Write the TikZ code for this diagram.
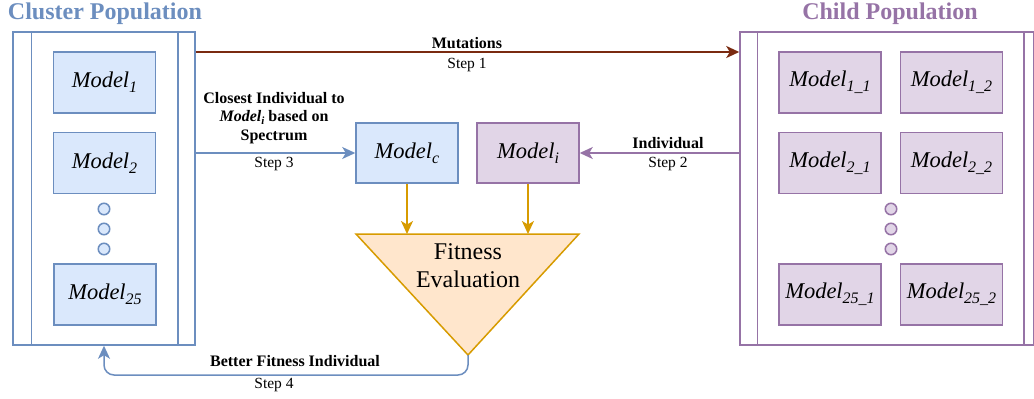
\documentclass[tikz,border=0pt]{standalone}
\usepackage{fontspec}
\setmainfont{Liberation Serif}
\usetikzlibrary{arrows.meta}
\definecolor{bstroke}{HTML}{6C8EBF}
\definecolor{bfill}{HTML}{DAE8FC}
\definecolor{pstroke}{HTML}{9673A6}
\definecolor{pfill}{HTML}{E1D5E7}
\definecolor{ostroke}{HTML}{D79B00}
\definecolor{ofill}{HTML}{FFE6CC}
\definecolor{mutred}{HTML}{7A2A10}
\newcommand\mdl[1]{\textit{Model}\raisebox{-5pt}{\fontsize{16}{16}\selectfont\itshape #1}}
\tikzset{
  mfont/.style={font=\fontsize{22.5}{27}\selectfont},
  bluebox/.style={draw=bstroke, fill=bfill, line width=1.5pt, minimum width=102pt, minimum height=61pt, inner sep=0pt, mfont},
  purplebox/.style={draw=pstroke, fill=pfill, line width=1.5pt, minimum width=102pt, minimum height=61pt, inner sep=0pt, mfont},
  bdot/.style={circle, draw=bstroke, fill=bfill, line width=1.5pt, minimum size=11.5pt, inner sep=0pt},
  pdot/.style={circle, draw=pstroke, fill=pfill, line width=1.5pt, minimum size=11.5pt, inner sep=0pt},
  container/.style={draw=#1, line width=1.5pt, inner sep=0pt},
  arr/.style={draw=#1, line width=1.5pt, -{Stealth[length=13pt,width=12pt,inset=3.5pt]}},
  lbl/.style={font=\fontsize{16}{18.5}\selectfont\bfseries, inner sep=0pt, align=center},
  stp/.style={font=\fontsize{15.5}{18}\selectfont, inner sep=0pt},
  ttl/.style={font=\fontsize{24}{28}\selectfont\bfseries, inner sep=0pt},
}
\begin{document}
\begin{tikzpicture}[x=1pt,y=-1pt]
\useasboundingbox (0,0) rectangle (1034,399);
% titles
\node[ttl, text=bstroke] (ctitle) at (105,14) {Cluster Population};
\node[ttl, text=pstroke] (ptitle) at (890,14) {Child Population};
% cluster container
\node[container=bstroke, minimum width=182pt, minimum height=313pt] (cluster) at (104,188.5) {};
\draw[bstroke, line width=1.5pt] ([xshift=19pt]cluster.north west) -- ([xshift=19pt]cluster.south west);
\draw[bstroke, line width=1.5pt] ([xshift=-18pt]cluster.north east) -- ([xshift=-18pt]cluster.south east);
\node[bluebox] (m1) at (104.5,82.5) {\mdl{1}};
\node[bluebox] (m2) at (104.5,163) {\mdl{2}};
\node[bdot] (cd1) at (104,209) {};
\node[bdot] (cd2) at (104,229) {};
\node[bdot] (cd3) at (104,249) {};
\node[bluebox] (m25) at (105,294.5) {\mdl{25}};
% child container
\node[container=pstroke, minimum width=293.5pt, minimum height=313pt] (child) at (886.75,188.5) {};
\draw[pstroke, line width=1.5pt] ([xshift=18pt]child.north west) -- ([xshift=18pt]child.south west);
\draw[pstroke, line width=1.5pt] ([xshift=-10.5pt]child.north east) -- ([xshift=-10.5pt]child.south east);
\node[purplebox] (c11) at (830,82.5) {\mdl{1\_1}};
\node[purplebox] (c12) at (951.5,82.5) {\mdl{1\_2}};
\node[purplebox] (c21) at (830,163) {\mdl{2\_1}};
\node[purplebox] (c22) at (951.5,163) {\mdl{2\_2}};
\node[pdot] (pd1) at (891,209) {};
\node[pdot] (pd2) at (891,229) {};
\node[pdot] (pd3) at (891,249) {};
\node[purplebox] (c251) at (830,294.5) {\mdl{25\_1}};
\node[purplebox] (c252) at (951.5,294.5) {\mdl{25\_2}};
% middle models
\node[bluebox, minimum height=60pt] (mc) at (407,153) {\mdl{c}};
\node[purplebox, minimum height=60pt] (mi) at (528,153) {\mdl{i}};
% fitness triangle
\coordinate (ftl) at (356,234);
\coordinate (ftr) at (579,234);
\coordinate (fap) at (468,355);
\draw[draw=ostroke, fill=ofill, line width=1.5pt, line join=miter] (ftl) -- (ftr) -- (fap) -- cycle;
\node[font=\fontsize{24}{28}\selectfont, align=center, inner sep=0pt] (fit) at (468,266) {Fitness\\Evaluation};
% arrows
\coordinate (mutl) at (cluster.east |- 0,52);
\coordinate (mutr) at (child.west |- 0,52);
\draw[arr=mutred, line width=2pt] (mutl) -- (mutr);
\node[lbl] (mutlbl) at (467,43) {Mutations};
\node[stp] (s1) at (467,65) {Step 1};
\draw[arr=bstroke] (cluster.east |- mc) -- (mc.west);
\node[lbl] (s3lbl) at (274,118) {Closest Individual to\\\textit{Model}\raisebox{-3pt}{\fontsize{11}{11}\selectfont\bfseries\itshape i} based on\\Spectrum};
\node[stp] (s3) at (274,164) {Step 3};
\draw[arr=pstroke] (child.west |- mi) -- (mi.east);
\node[lbl] (s2lbl) at (668,143) {Individual};
\node[stp] (s2) at (668,164) {Step 2};
\draw[arr=ostroke] (mc.south) -- (mc |- ftl);
\draw[arr=ostroke] (mi.south) -- (mi |- ftl);
\draw[arr=bstroke, rounded corners=10pt] (fap) -- (fap |- 0,375) -- (cluster.south |- 0,375) -- (cluster.south);
\node[lbl] (s4lbl) at (295,361) {Better Fitness Individual};
\node[stp] (s4) at (274,385) {Step 4};
\end{tikzpicture}
\end{document}
